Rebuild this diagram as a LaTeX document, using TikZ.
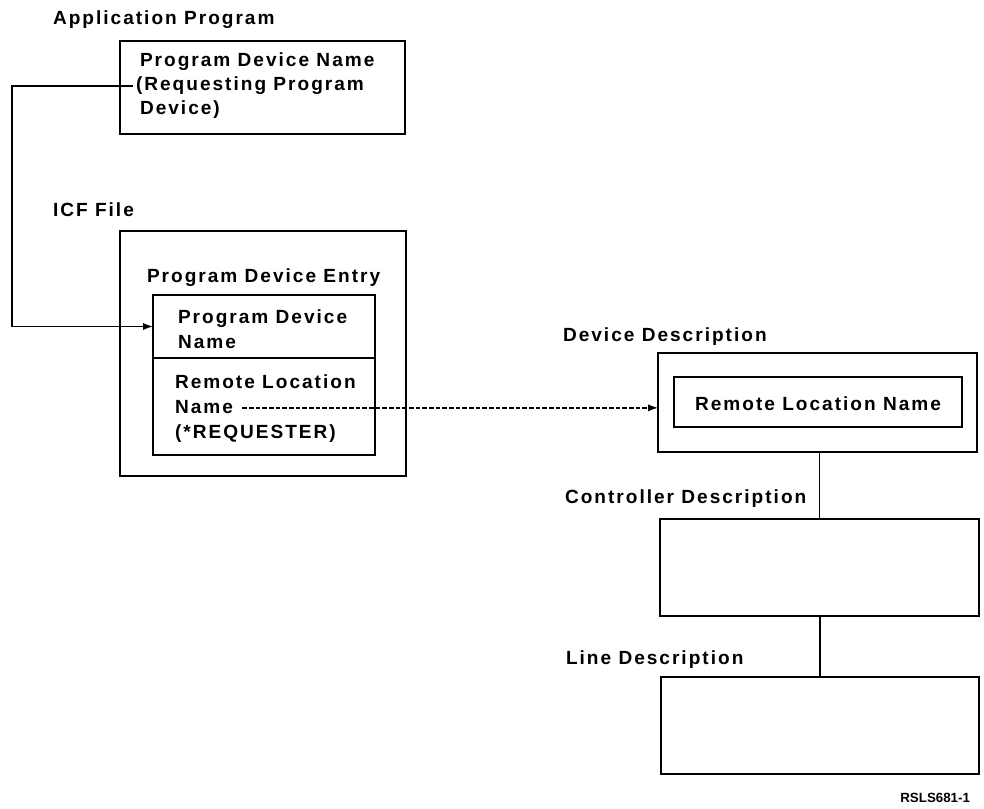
\documentclass[tikz,border=0pt]{standalone}
\usepackage{fontspec}
\setmainfont{Liberation Sans}[LetterSpace=10.5]
\newfontfamily\tagfont{Liberation Sans}
\usetikzlibrary{arrows.meta}
\tikzset{
  every node/.style={inner sep=0pt, outer sep=0pt},
  box/.style={draw, line width=1.1pt, rectangle, anchor=north west},
  lbl/.style={anchor=base west, font=\fontsize{14.3}{18.75}\selectfont\bfseries},
  conn/.style={line width=1.2pt},
  tip/.style={-{Latex[length=7.5pt,width=5.5pt]}},
  dsh/.style={dash pattern=on 3.5pt off 1.5pt}
}
\begin{document}
\begin{tikzpicture}[x=0.75pt, y=-0.75pt, line width=1pt]
\useasboundingbox (0,0) rectangle (984,809);
% boxes
\node[box, minimum width=213.75pt, minimum height=69.75pt] (app) at (120,41) {};
\node[box, minimum width=214.5pt, minimum height=183.75pt] (icf) at (120,231) {};
\node[box, minimum width=166.5pt, minimum height=47.25pt] (pdn) at (153,295) {};
\node[box, minimum width=166.5pt, minimum height=72.75pt] (rln) at (153,358) {};
\node[box, minimum width=239.25pt, minimum height=74.25pt] (dev) at (658,353) {};
\node[box, minimum width=216pt, minimum height=37.5pt] (rlname) at (674,377) {};
\node[box, minimum width=239.25pt, minimum height=72.75pt] (ctl) at (660,519) {};
\node[box, minimum width=238.5pt, minimum height=72.75pt] (lin) at (661,677) {};
% labels
\node[lbl] (tapp) at (53,25) {Application Program};
\node[lbl] (a1) at (140,67) {Program Device Name};
\node[lbl] (a2) at (136,91) {(Requesting Program};
\node[lbl] (a3) at (140,115) {Device)};
\node[lbl] (ticf) at (53,217) {ICF File};
\node[lbl] (tpde) at (147,282) {Program Device Entry};
\node[lbl] (p1) at (178,323) {Program Device};
\node[lbl] (p2) at (178,348) {Name};
\node[lbl] (r1) at (175,388) {Remote Location};
\node[lbl] (r2) at (175,413) {Name};
\node[lbl] (r3) at (175,438) {(*REQUESTER)};
\node[lbl] (tdev) at (563,341) {Device Description};
\node[lbl, anchor=center] (trl) at ([yshift=-1pt]rlname.center) {Remote Location Name};
\node[lbl] (tctl) at (565,503) {Controller Description};
\node[lbl] (tlin) at (566,664) {Line Description};
\node[anchor=base east, font=\tagfont\fontsize{10}{12}\selectfont\bfseries] (tag) at (970,802) {RSLS681-1};
% connectors
\coordinate (s1) at ([xshift=-2.5pt]a2.west);
\coordinate (c1) at (12,87);
\draw[conn, tip] (s1) -- (s1 -| c1) |- (pdn.west);
\coordinate (s2) at ([xshift=7pt,yshift=-1pt]r2.east);
\draw[conn, dsh, tip] (s2) -- (s2 -| dev.west);
\draw[conn] (ctl.north) -- (ctl.north |- dev.south);
\draw[conn] (lin.north) -- (lin.north |- ctl.south);
\end{tikzpicture}
\end{document}
